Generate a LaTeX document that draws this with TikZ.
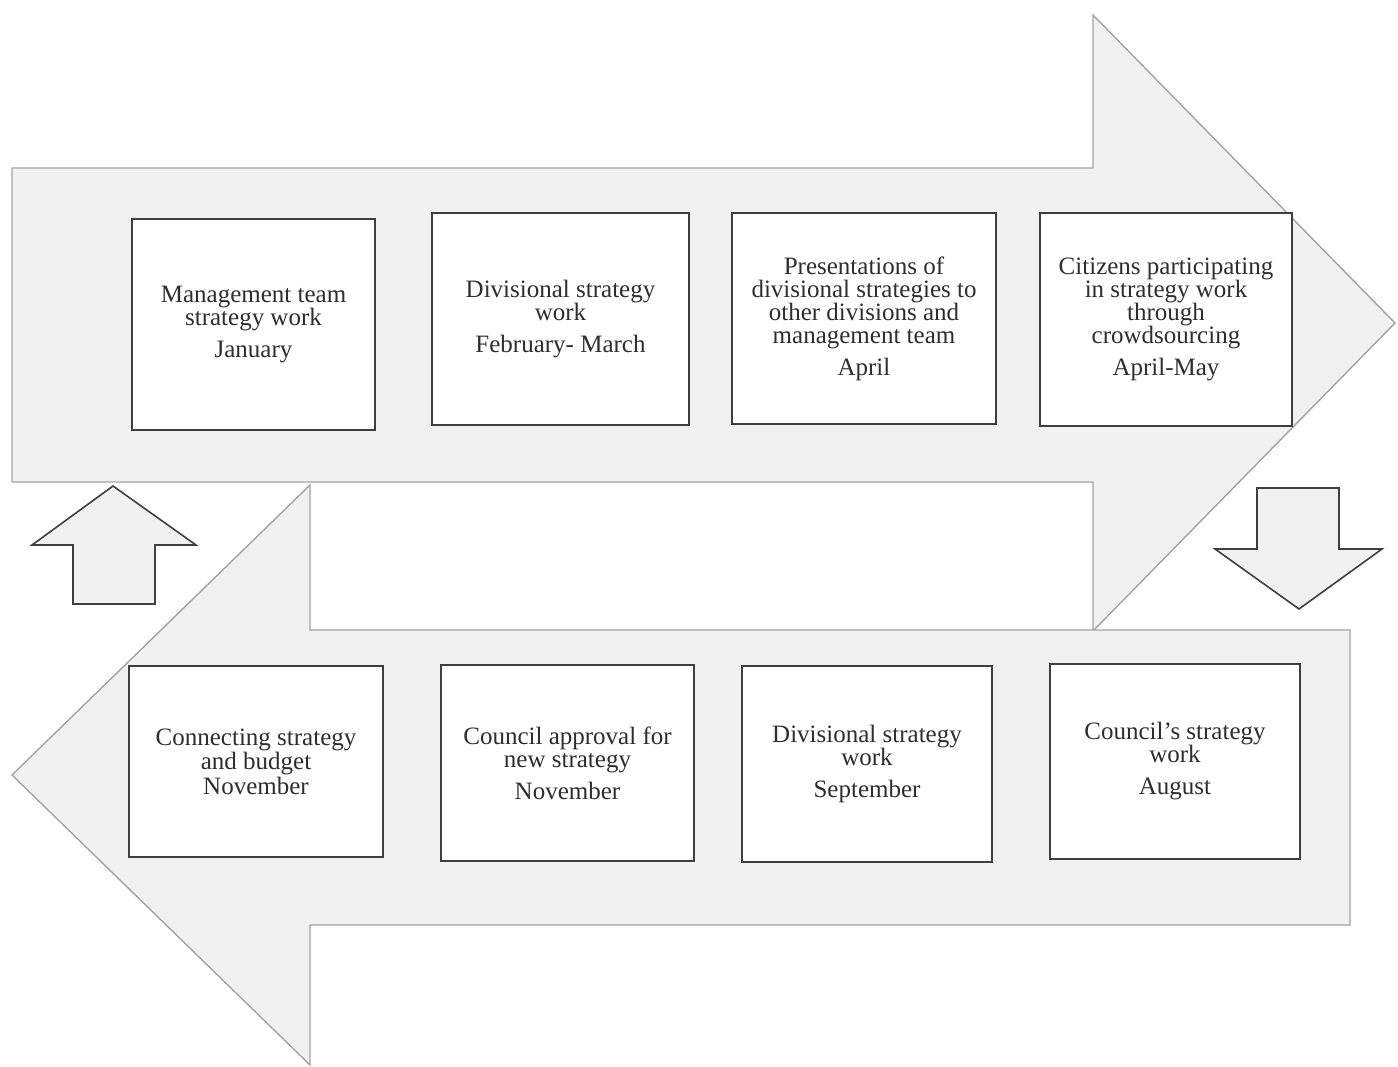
\documentclass[tikz,border=0pt]{standalone}
\usepackage{fontspec}
\setmainfont{Liberation Serif}
\usepackage{tikz}
\definecolor{arrowfill}{HTML}{F1F1F1}
\definecolor{arrowline}{HTML}{A3A3A3}
\definecolor{boxline}{HTML}{3F3F3F}
\definecolor{stagetext}{HTML}{2E2E2E}
\newcommand{\stage}[6]{\node[draw=boxline,line width=1.1pt,fill=white,text=stagetext,align=center,inner sep=0pt,font=\fontsize{12.5}{11.5}\selectfont,minimum width=#4*0.5pt,minimum height=#5*0.5pt] (#1) at ( #2 , #3 ) {#6};}
\newcommand{\bigarrow}[1]{\draw[draw=arrowline,line width=0.7pt,fill=arrowfill,line join=miter] #1;}
\newcommand{\smallarrow}[1]{\draw[draw=boxline,line width=0.8pt,fill=arrowfill,line join=miter] #1;}

\begin{document}
\begin{tikzpicture}[x=0.5pt,y=-0.5pt]
\useasboundingbox (0,0) rectangle (1398,1066);
% big arrows
\bigarrow{(12,168) -- (1093,168) -- (1093,15) -- (1395,323) -- (1093,631) -- (1093,482) -- (12,482) -- cycle}
\bigarrow{(1350,630) -- (310,630) -- (310,485) -- (12,775) -- (310,1065) -- (310,925) -- (1350,925) -- cycle}
% small arrows
\smallarrow{(73,604) -- (73,545) -- (32,545) -- (113,486) -- (196,545) -- (155,545) -- (155,604) -- cycle}
\smallarrow{(1257,488) -- (1339,488) -- (1339,549) -- (1382,549) -- (1299,609) -- (1215,549) -- (1257,549) -- cycle}
% top row of boxes
\stage{jan}{253.5}{324.5}{243}{211}{Management team\\strategy work\\[4.5pt]January}
\stage{febmar}{560.5}{319}{257}{212}{Divisional strategy\\work\\[4.5pt]February- March}
\stage{apr}{864}{318.5}{264}{211}{Presentations of\\divisional strategies to\\other divisions and\\management team\\[4.5pt]April}
\stage{aprmay}{1166}{319.5}{252}{213}{Citizens participating\\in strategy work\\through\\crowdsourcing\\[4.5pt]April-May}
% bottom row of boxes
\stage{aug}{1175}{761.5}{250}{195}{Council’s strategy\\work\\[4.5pt]August}
\stage{sep}{867}{764}{250}{196}{Divisional strategy\\work\\[4.5pt]September}
\stage{novapp}{567.5}{763}{253}{196}{Council approval for\\new strategy\\[4.5pt]November}
\stage{novbud}{256}{761.5}{254}{191}{Connecting strategy\\[0.8pt]and budget\\[0.8pt]November}
\end{tikzpicture}
\end{document}
